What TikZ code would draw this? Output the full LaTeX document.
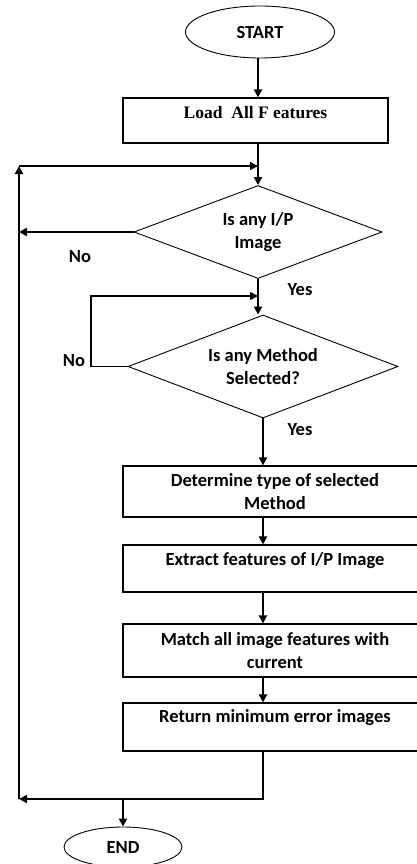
\documentclass[tikz,border=0pt]{standalone}
\usepackage{fontspec}
\setmainfont{Carlito}
\newfontfamily\timesfont{Liberation Serif}
\usetikzlibrary{shapes.geometric,arrows.meta}
\begin{document}
\begin{tikzpicture}[x=1pt,y=-1pt,
  every node/.style={font=\fontsize{18.5}{22.5}\selectfont\bfseries, text=black},
  procbox/.style={draw, line width=1.2pt, rectangle, minimum width=304pt, align=center, inner sep=0pt},
  onebox/.style={procbox, text height=13pt, text depth=19pt},
  decision/.style={draw, line width=0.9pt, diamond, aspect=2.6, inner sep=0pt, align=center},
  terminal/.style={draw, line width=0.9pt, ellipse, inner sep=0pt},
  lbl/.style={inner sep=0pt},
  arr/.style={line width=2.2pt, -{Triangle[length=8pt,width=8pt]}},
  loopline/.style={line width=1.6pt, -{Triangle[length=8pt,width=8pt]}},
  backline/.style={line width=2.4pt, -{Triangle[length=8pt,width=8pt]}}
]
\useasboundingbox (0,0) rectangle (417,864);
\clip (0,0) rectangle (417,864);

\node[terminal, minimum width=149pt, minimum height=52pt] (start) at (260,32) {START};
\node[procbox, minimum width=265pt, minimum height=45pt, text height=13pt, text depth=16pt,
      font=\fontsize{17.5}{21}\selectfont\timesfont\bfseries] (load) at (255.5,120.5) {Load\ \ All F eatures};
\node[decision, minimum width=248pt, minimum height=93pt] (d1) at (258,232) {Is any I/P\\Image};
\node[decision, minimum width=270pt, minimum height=103pt] (d2) at (263,366.5) {Is any Method\\Selected?};
\node[procbox, minimum height=51pt] (det) at (275,491.5) {Determine type of selected\\Method};
\node[onebox, minimum height=47pt] (ext) at (275,568.5) {Extract features of I/P Image};
\node[procbox, minimum height=53pt] (mat) at (275,650.5) {Match all image features with\\current};
\node[onebox, minimum height=48pt, text depth=22pt] (ret) at (275,727) {Return minimum error images};
\node[terminal, minimum width=118pt, minimum height=40pt] (end) at (123,847) {END};

\node[lbl] (no1) at (80,257) {No};
\node[lbl] (yes1) at (300,290) {Yes};
\node[lbl] (no2) at (74,361) {No};
\node[lbl] (yes2) at (300,430) {Yes};

\coordinate (tl) at (19,166);
\coordinate (bl) at (19,799);
\coordinate (j1) at (258,166);
\coordinate (j2) at (258,296);
\coordinate (lp1) at (91,366.5);
\coordinate (lp2) at (91,296);
\coordinate (eb) at (123,799);

\draw[arr] (start.south -| j1) -- (j1 |- load.north);
\draw[arr] (j1 |- load.south) -- (d1.north);
\draw[backline] (d1.west) -- (tl |- d1.west);
\draw[arr] (d1.south) -- (d1.south |- d2.north);
\draw[loopline] (d2.west) -- (lp1) -- (lp2) -- (j2);
\draw[arr] (d2.south) -- (d2.south |- det.north);
\draw[arr] (d2.south |- det.south) -- (d2.south |- ext.north);
\draw[arr] (d2.south |- ext.south) -- (d2.south |- mat.north);
\draw[arr] (d2.south |- mat.south) -- (d2.south |- ret.north);
\draw[backline] (d2.south |- ret.south) -- (d2.south |- bl) -- (bl);
\draw[backline] (bl) -- (tl);
\draw[loopline] (tl) -- (j1);
\draw[arr] (eb) -- (end.north);
\end{tikzpicture}
\end{document}
